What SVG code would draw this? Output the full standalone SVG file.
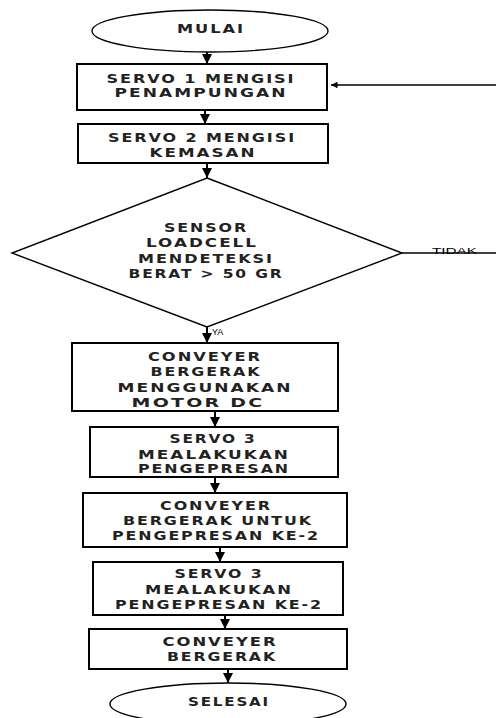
<svg xmlns="http://www.w3.org/2000/svg" width="496" height="718" viewBox="0 0 496 718">
<style>
.shape{fill:#fff;stroke:#000;stroke-width:2}
.term{fill:#fff;stroke:#000;stroke-width:1.4}
.t{font-family:"DejaVu Sans","Liberation Sans",Arial,sans-serif;font-size:12.5px;font-weight:bold;letter-spacing:1.5px;fill:#222;text-anchor:middle}
.s{font-family:"Liberation Sans",Arial,sans-serif;font-size:9px;fill:#000}
.c{stroke:#000;stroke-width:2;fill:none}
</style>
<defs>
<marker id="ah" viewBox="0 0 10 10" refX="10" refY="5" markerWidth="5" markerHeight="5" orient="auto" markerUnits="strokeWidth">
<path d="M0,0 L10,5 L0,10 z" fill="#000"/>
</marker>
</defs>
<rect width="496" height="718" fill="#fff"/>
<g id="connectors">
<line class="c" x1="207" y1="52" x2="207" y2="64" marker-end="url(#ah)"/>
<line class="c" x1="205" y1="110" x2="205" y2="124" marker-end="url(#ah)"/>
<line class="c" x1="207" y1="163" x2="207" y2="178" marker-end="url(#ah)"/>
<line class="c" x1="207" y1="327" x2="207" y2="343" marker-end="url(#ah)"/>
<line class="c" x1="215" y1="411" x2="215" y2="427" marker-end="url(#ah)"/>
<line class="c" x1="215" y1="477" x2="215" y2="493" marker-end="url(#ah)"/>
<line class="c" x1="220" y1="547" x2="220" y2="562" marker-end="url(#ah)"/>
<line class="c" x1="225" y1="615" x2="225" y2="629" marker-end="url(#ah)"/>
<line class="c" x1="228" y1="669" x2="228" y2="683" marker-end="url(#ah)"/>
<line x1="402" y1="253" x2="496" y2="253" stroke="#000" stroke-width="1.3"/>
<line x1="496" y1="85" x2="331" y2="85" stroke="#000" stroke-width="1.3" marker-end="url(#ah)"/>
<text class="s" x="432" y="254" textLength="45" lengthAdjust="spacingAndGlyphs">TIDAK</text>
<text class="s" x="212" y="335">YA</text>
</g>
<g id="mulai">
<ellipse class="term" cx="210" cy="31" rx="118" ry="21"/>
<text class="t" x="211" y="33" textLength="68" lengthAdjust="spacingAndGlyphs">MULAI</text>
</g>
<g id="servo1">
<rect class="shape" x="77" y="64" width="250" height="46"/>
<text class="t" x="201" y="83" textLength="189" lengthAdjust="spacingAndGlyphs">SERVO 1 MENGISI</text>
<text class="t" x="201" y="97" textLength="173" lengthAdjust="spacingAndGlyphs">PENAMPUNGAN</text>
</g>
<g id="servo2">
<rect class="shape" x="78" y="124" width="250" height="39"/>
<text class="t" x="202" y="142" textLength="188" lengthAdjust="spacingAndGlyphs">SERVO 2 MENGISI</text>
<text class="t" x="203" y="157" textLength="107" lengthAdjust="spacingAndGlyphs">KEMASAN</text>
</g>
<g id="sensor">
<polygon points="207,178 402,253 207,327 12,253" fill="#fff" stroke="#000" stroke-width="1.4"/>
<text class="t" x="206" y="232" textLength="84" lengthAdjust="spacingAndGlyphs">SENSOR</text>
<text class="t" x="202" y="247" textLength="112" lengthAdjust="spacingAndGlyphs">LOADCELL</text>
<text class="t" x="206" y="263" textLength="136" lengthAdjust="spacingAndGlyphs">MENDETEKSI</text>
<text class="t" x="206" y="278" textLength="155" lengthAdjust="spacingAndGlyphs">BERAT &gt; 50 GR</text>
</g>
<g id="conveyer1">
<rect class="shape" x="72" y="343" width="266" height="68"/>
<text class="t" x="205" y="361" textLength="114" lengthAdjust="spacingAndGlyphs">CONVEYER</text>
<text class="t" x="206" y="376" textLength="111" lengthAdjust="spacingAndGlyphs">BERGERAK</text>
<text class="t" x="205" y="392" textLength="175" lengthAdjust="spacingAndGlyphs">MENGGUNAKAN</text>
<text class="t" x="198" y="407" textLength="133" lengthAdjust="spacingAndGlyphs">MOTOR DC</text>
</g>
<g id="servo3a">
<rect class="shape" x="90" y="427" width="248" height="50"/>
<text class="t" x="213" y="443" textLength="87" lengthAdjust="spacingAndGlyphs">SERVO 3</text>
<text class="t" x="214" y="459" textLength="152" lengthAdjust="spacingAndGlyphs">MEALAKUKAN</text>
<text class="t" x="214" y="473" textLength="152" lengthAdjust="spacingAndGlyphs">PENGEPRESAN</text>
</g>
<g id="conveyer2">
<rect class="shape" x="83" y="493" width="264" height="54"/>
<text class="t" x="216" y="510" textLength="112" lengthAdjust="spacingAndGlyphs">CONVEYER</text>
<text class="t" x="218" y="525" textLength="190" lengthAdjust="spacingAndGlyphs">BERGERAK UNTUK</text>
<text class="t" x="216" y="540" textLength="208" lengthAdjust="spacingAndGlyphs">PENGEPRESAN KE-2</text>
</g>
<g id="servo3b">
<rect class="shape" x="93" y="562" width="250" height="53"/>
<text class="t" x="219" y="578" textLength="89" lengthAdjust="spacingAndGlyphs">SERVO 3</text>
<text class="t" x="219" y="594" textLength="148" lengthAdjust="spacingAndGlyphs">MEALAKUKAN</text>
<text class="t" x="219" y="609" textLength="208" lengthAdjust="spacingAndGlyphs">PENGEPRESAN KE-2</text>
</g>
<g id="conveyer3">
<rect class="shape" x="89" y="629" width="258" height="40"/>
<text class="t" x="220" y="646" textLength="115" lengthAdjust="spacingAndGlyphs">CONVEYER</text>
<text class="t" x="222" y="661" textLength="110" lengthAdjust="spacingAndGlyphs">BERGERAK</text>
</g>
<g id="selesai">
<ellipse class="term" cx="228" cy="704" rx="118" ry="21"/>
<text class="t" x="229" y="706" textLength="82" lengthAdjust="spacingAndGlyphs">SELESAI</text>
</g>
</svg>
